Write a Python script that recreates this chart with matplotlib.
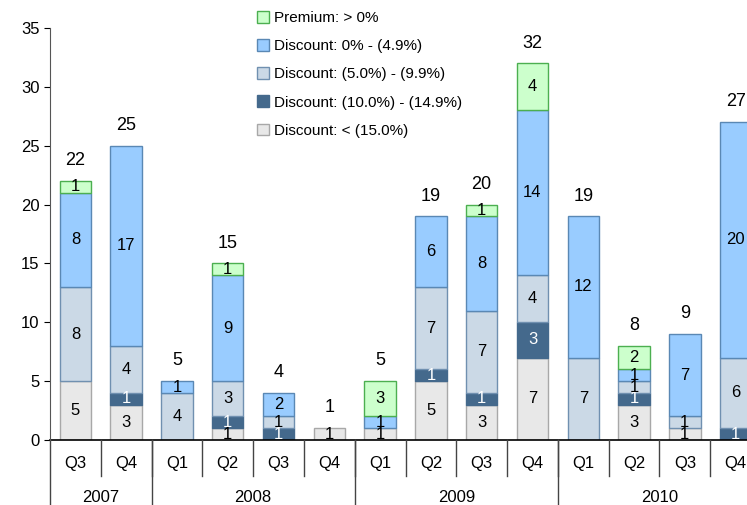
import numpy as np
import matplotlib.pyplot as plt

plt.rcParams["font.family"] = ["Liberation Sans", "DejaVu Sans"]

quarters = ["Q3", "Q4", "Q1", "Q2", "Q3", "Q4", "Q1", "Q2", "Q3", "Q4", "Q1", "Q2", "Q3", "Q4"]
years = ["2007", "2008", "2009", "2010"]
year_spans = [2, 4, 4, 4]

below_15 = [5, 3, 0, 1, 0, 1, 1, 5, 3, 7, 0, 3, 1, 0]
disc_10_15 = [0, 1, 0, 1, 1, 0, 0, 1, 1, 3, 0, 1, 0, 1]
disc_5_10 = [8, 4, 4, 3, 1, 0, 0, 7, 7, 4, 7, 1, 1, 6]
disc_0_5 = [8, 17, 1, 9, 2, 0, 1, 6, 8, 14, 12, 1, 7, 20]
premium = [1, 0, 0, 1, 0, 0, 3, 0, 1, 4, 0, 2, 0, 0]

series = [
    ("Discount: < (15.0%)", below_15, "#e8e8e8", "#a8a8a8", "black"),
    ("Discount: (10.0%) - (14.9%)", disc_10_15, "#44698c", "#44698c", "white"),
    ("Discount: (5.0%) - (9.9%)", disc_5_10, "#cbd9e6", "#7090b0", "black"),
    ("Discount: 0% - (4.9%)", disc_0_5, "#99ccff", "#5a88b4", "black"),
    ("Premium: > 0%", premium, "#ccffcc", "#4caf50", "black"),
]

fig = plt.figure(figsize=(7.47, 5.05), dpi=100)
ax = fig.add_axes([50 / 747, 65 / 505, 711 / 747, 412 / 505])

x = np.arange(len(quarters))
bottom = np.zeros(len(quarters))
handles = []
for name, vals, fc, ec, tc in series:
    vals = np.array(vals)
    keep = vals > 0
    h = ax.bar(x[keep], vals[keep], width=0.62, bottom=bottom[keep], color=fc,
               edgecolor=ec, linewidth=1.0, label=name)
    handles.append(h)
    for xi, b, v in zip(x, bottom, vals):
        if v > 0:
            ax.text(xi, b + v / 2, str(v), ha="center", va="center",
                    fontsize=12, color=tc)
    bottom += vals

for xi, t in zip(x, bottom):
    ax.text(xi, t + 1.0, str(int(t)), ha="center", va="bottom", fontsize=13)

ax.set_xlim(-0.5, len(quarters) - 0.5)
ax.set_ylim(0, 35)
ax.set_yticks(range(0, 36, 5))
ax.tick_params(axis="y", labelsize=12, length=4)
ax.set_xticks([])
for s in ["top", "right", "bottom"]:
    ax.spines[s].set_visible(False)
ax.spines["left"].set_color("#555555")
ax.axhline(0, color="black", lw=1.2, clip_on=False)

tr = ax.get_xaxis_transform()
# quarter separators
for b in np.arange(0.5, len(quarters) - 0.5, 1.0):
    ax.plot([b, b], [0, -0.087], transform=tr, color="#444444", lw=1, clip_on=False)
for xi, q in zip(x, quarters):
    ax.text(xi, -0.056, q, transform=tr, ha="center", va="center", fontsize=12)
# year separators
edges = np.concatenate([[0], np.cumsum(year_spans)]) - 0.5
for e in edges:
    ax.plot([e, e], [0, -0.16], transform=tr, color="#444444", lw=1, clip_on=False)
for i, yr in enumerate(years):
    mid = (edges[i] + edges[i + 1]) / 2
    ax.text(mid, -0.14, yr, transform=tr, ha="center", va="center", fontsize=12)

leg = ax.legend(handles[::-1], [s[0] for s in series][::-1], loc="upper left",
                bbox_to_anchor=(193 / 711, 1.075), frameon=False, fontsize=11,
                handlelength=0.8, handleheight=0.8, labelspacing=0.92,
                handletextpad=0.35)

fig.savefig("out.png", dpi=100)
